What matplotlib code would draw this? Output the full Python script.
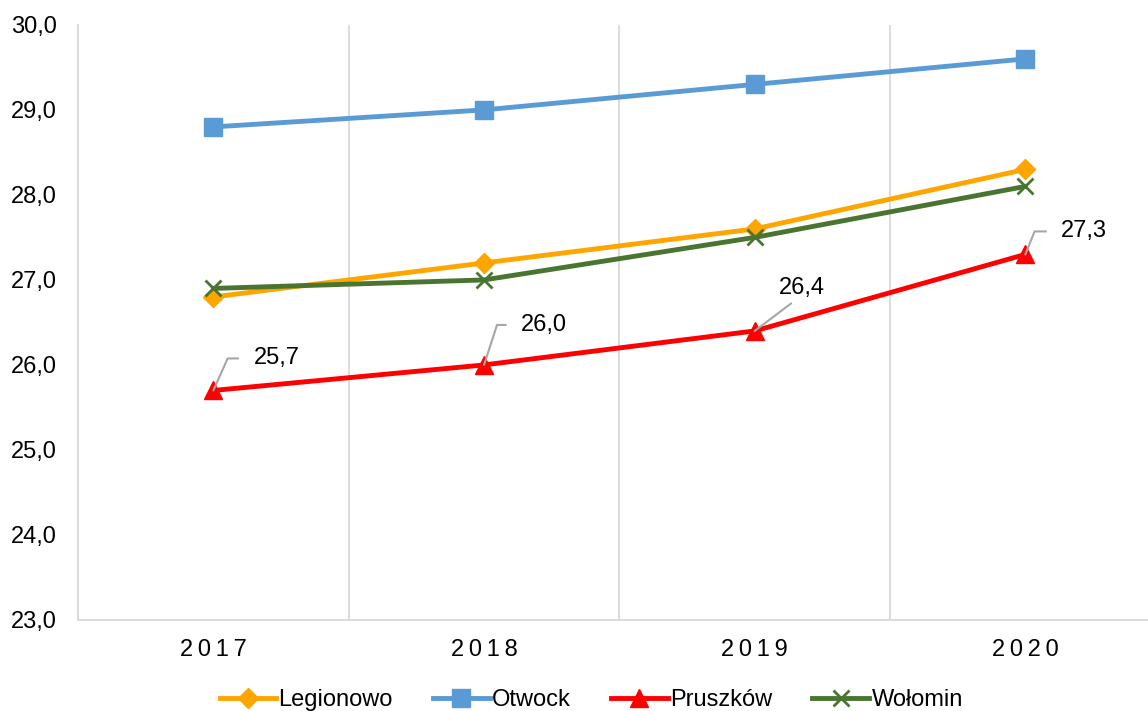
import numpy as np
import matplotlib.pyplot as plt

plt.rcParams['font.family'] = ['Liberation Sans', 'DejaVu Sans']

years = ['2017', '2018', '2019', '2020']
legionowo = [26.8, 27.2, 27.6, 28.3]
otwock = [28.8, 29.0, 29.3, 29.6]
pruszkow = [25.7, 26.0, 26.4, 27.3]
wolomin = [26.9, 27.0, 27.5, 28.1]
yticks = [23.0, 24.0, 25.0, 26.0, 27.0, 28.0, 29.0, 30.0]

x = np.arange(len(years))
fs = 17

fig = plt.figure(figsize=(11.48, 7.11), dpi=100)
ax = fig.add_axes([0.068, 0.128, 0.943, 0.837])

ax.plot(x, legionowo, color='#FFA500', lw=3.5, marker='D', ms=10, label='Legionowo', zorder=3)
ax.plot(x, otwock, color='#5B9BD5', lw=3.5, marker='s', ms=13, label='Otwock', zorder=3)
ax.plot(x, pruszkow, color='#FF0000', lw=3.5, marker='^', ms=13, label='Pruszków', zorder=3)
ax.plot(x, wolomin, color='#4A7530', lw=3.5, marker='x', ms=11, mew=2, label='Wołomin', zorder=3)

# etykiety danych dla Pruszkowa
offsets = [(40, 32, 66), (37, 40, 72), (47, 43, None), (36, 23, 68)]
for i, v in enumerate(pruszkow):
    dx, dy, ang = offsets[i]
    lbl = f'{v:.1f}'.replace('.', ',')
    if ang is None:
        ax.annotate(lbl, xy=(i, v), xytext=(dx, dy), textcoords='offset pixels',
                    ha='center', va='center', fontsize=fs,
                    arrowprops=dict(arrowstyle='-', color='#A6A6A6', lw=1.5,
                                    shrinkA=2, shrinkB=0, relpos=(0.4, 0)))
    else:
        ax.annotate(lbl, xy=(i, v), xytext=(dx, dy), textcoords='offset pixels',
                    ha='left', va='center', fontsize=fs,
                    arrowprops=dict(arrowstyle='-', color='#A6A6A6', lw=1.5,
                                    shrinkA=9, shrinkB=0, relpos=(0, 0.5),
                                    connectionstyle=f'angle,angleA=0,angleB={ang},rad=0'))

ax.set_xlim(-0.5, 3.5)
ax.set_ylim(23, 30)
ax.set_xticks(x)
ax.set_xticklabels(['\u2009'.join(y) for y in years], fontsize=fs)
ax.set_yticks(yticks)
ax.set_yticklabels([f'{t:.1f}'.replace('.', ',') for t in yticks], fontsize=fs)
ax.set_xticks(np.arange(-0.5, 4, 1), minor=True)
ax.tick_params(which='both', length=0)
ax.tick_params(axis='x', pad=14)
ax.tick_params(axis='y', pad=15)
ax.grid(axis='x', which='minor', color='#D9D9D9', lw=1.3)
for s in ['top', 'right']:
    ax.spines[s].set_visible(False)
for s in ['left', 'bottom']:
    ax.spines[s].set_color('#D9D9D9')
    ax.spines[s].set_linewidth(1.3)

fig.legend(loc='lower center', bbox_to_anchor=(0.515, -0.03), ncol=4, frameon=False,
           fontsize=fs, handlelength=2.4, handletextpad=0.1, columnspacing=1.7)

fig.savefig('out.png', dpi=100)
